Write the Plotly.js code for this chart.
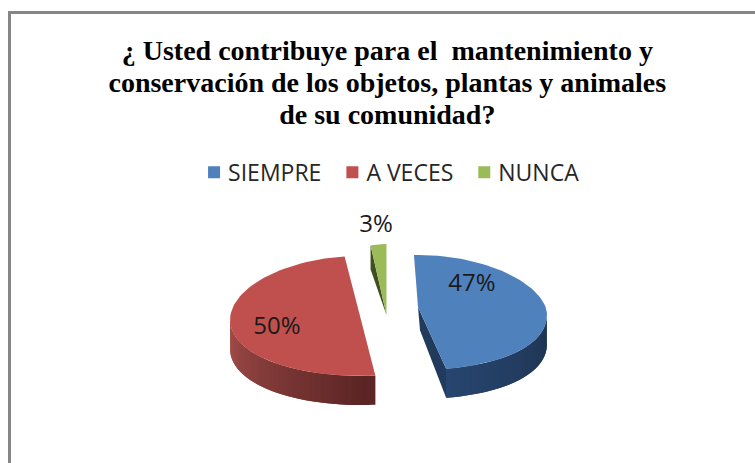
<!DOCTYPE html>
<html><head><meta charset="utf-8">
<script src="https://cdn.plot.ly/plotly-3.0.1.min.js"></script>
<style>html,body{margin:0;padding:0;background:#fff}#c{width:755px;height:463px}</style>
</head><body><div id="c"></div>
<script>
const categories = ['SIEMPRE', 'A VECES', 'NUNCA'];
const shares = [47, 50, 3];
const colors = ['#4f81bd', '#c0504d', '#9bbb59'];
const titleLines = ['¿ Usted contribuye para el  mantenimiento y', 'conservación de los objetos, plantas y animales', 'de su comunidad?'];

// Projection of each exploded slice onto the page (pixel-scaled axes)
const view = [
  {cx: 418, cy: 307, rx: 129, back: 52, front: 63, sag: 8, tweak: -0.5, label: [472, 285]},
  {cx: 360, cy: 316, rx: 130, back: 60, front: 60, sag: 4, tweak: 5.3, label: [277, 328]},
  {cx: 386.5, cy: 315, rx: 85, back: 71, front: 71, sag: 0, tweak: 1.3, label: [376, 226]}
];
const depth = 29, startAngle = -1.3;
const sideFrom = ['#1f3350', '#a64f4c', '#3f4f20'];
const sideTo = ['#27456f', '#5a2524', '#3f4f20'];

const rad = d => d * Math.PI / 180;
function pt(v, deg) {
  const s = Math.sin(rad(deg)), c = Math.cos(rad(deg));
  return [v.cx + v.rx * s, v.cy - (c > 0 ? v.back : v.front) * c + v.sag * s * s];
}
function mix(a, b, t) {
  const p = h => [1, 3, 5].map(i => parseInt(h.substr(i, 2), 16));
  const A = p(a), B = p(b);
  return 'rgb(' + A.map((x, i) => Math.round(x + (B[i] - x) * t)).join(',') + ')';
}
const poly = (pts, color) => ({
  type: 'scatter', mode: 'lines', x: pts.map(p => p[0]).concat(pts[0][0]), y: pts.map(p => p[1]).concat(pts[0][1]),
  fill: 'toself', fillcolor: color, line: {color: color, width: 0}, hoverinfo: 'skip', showlegend: false
});

const legendTraces = categories.map((c, i) => ({
  type: 'scatter', mode: 'markers', name: c, x: [null], y: [null],
  marker: {symbol: 'square', size: 13, color: colors[i]}, hoverinfo: 'skip'
}));

const sides = [], tops = [];
let acc = startAngle;
shares.forEach((v, i) => {
  const g = view[i];
  const a0 = acc + g.tweak, a1 = acc + g.tweak + v * 3.6;
  acc += v * 3.6;
  // outer wall: only the front half (90..270 degrees) faces the viewer
  const f0 = Math.max(a0, 90), f1 = Math.min(a1, 270);
  const n = 36;
  if (f1 > f0) {
    for (let k = 0; k < n; k++) {
      const idx = i === 1 ? n - 1 - k : k;   // paint so each strip overlaps the seam of the last
      const idx1 = Math.min(idx + 2, n);
      const t0 = f0 + (f1 - f0) * idx / n, t1 = f0 + (f1 - f0) * idx1 / n;
      const tm = [], bm = [];
      for (let q = 0; q <= 4; q++) {
        const p = pt(g, t0 + (t1 - t0) * q / 4);
        tm.push(p); bm.unshift([p[0], p[1] + depth]);
      }
      const tt = i === 1 ? 1 - idx / (n - 1) : idx / (n - 1);
      sides.push(poly(tm.concat(bm), mix(sideFrom[i], sideTo[i], tt)));
    }
  }
  // cut wall of the blue slice, seen from the front
  if (i === 0) {
    const e = pt(g, a1);
    sides.push(poly([[g.cx, g.cy], e, [e[0], e[1] + depth], [g.cx + 2, g.cy + depth * 0.8]], '#223a5c'));
  }
  // cut wall of the green slice
  if (i === 2) {
    const s = pt(g, a0);
    sides.push(poly([s, [g.cx, g.cy], [s[0], s[1] + depth * 0.83]], sideFrom[2]));
  }
  const face = [[g.cx, g.cy]];
  for (let k = 0; k <= 80; k++) face.push(pt(g, a0 + (a1 - a0) * k / 80));
  tops.push(poly(face, colors[i]));
});

const labelTrace = {
  type: 'scatter', mode: 'text', x: view.map(g => g.label[0]), y: view.map(g => g.label[1]),
  text: shares.map(v => v + '%'), textposition: 'middle center',
  textfont: {family: 'Open Sans, sans-serif', size: 24, color: '#1a1a1a'}, hoverinfo: 'skip', showlegend: false
};

const layout = {
  width: 755, height: 463, margin: {l: 0, r: 0, t: 0, b: 0},
  paper_bgcolor: '#fff', plot_bgcolor: '#fff',
  xaxis: {range: [0, 755], visible: false, fixedrange: true},
  yaxis: {range: [463, 0], visible: false, fixedrange: true},
  title: {text: '<b>' + titleLines.join('<br>') + '</b>', x: 0.513, xanchor: 'center', y: 0.888, yanchor: 'middle',
    font: {family: 'Liberation Serif, serif', size: 28, color: '#000'}},
  showlegend: true,
  legend: {orientation: 'h', x: 0.512, xanchor: 'center', y: 0.628, yanchor: 'middle', itemsizing: 'constant',
    font: {family: 'Open Sans, sans-serif', size: 23, color: '#262626'}, bgcolor: 'rgba(0,0,0,0)', traceorder: 'normal'},
  shapes: [
    {type: 'line', x0: 9.5, x1: 9.5, y0: 11, y1: 463, line: {color: '#858585', width: 3}},
    {type: 'line', x0: 8, x1: 755, y0: 12.5, y1: 12.5, line: {color: '#858585', width: 3}}
  ]
};
Plotly.newPlot('c', legendTraces.concat(sides, tops, [labelTrace]), layout, {displayModeBar: false, staticPlot: true}).then(gd => {
  // tighter title leading than Plotly's fixed 1.3em, and legend swatch closer to its text
  gd.querySelectorAll('.gtitle tspan.line').forEach((t, i) => { t.setAttribute('dy', 0); t.setAttribute('y', 60 + 32 * i); });
  gd.querySelectorAll('.legend .legendsymbols').forEach(g => g.setAttribute('transform', 'translate(6,0)'));
});
</script></body></html>
